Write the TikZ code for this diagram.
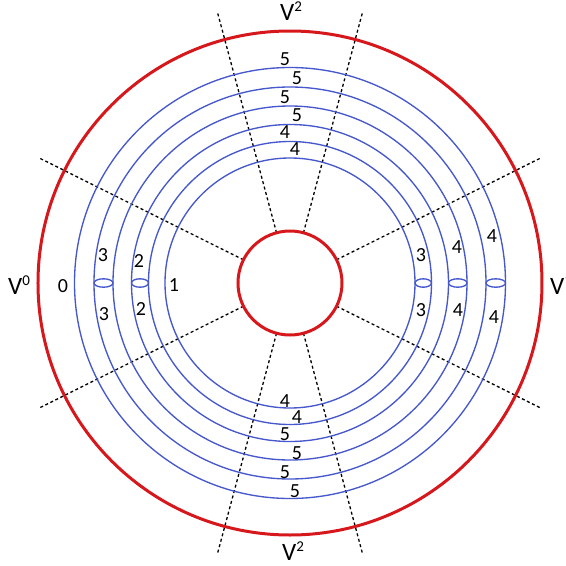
\documentclass[tikz,border=0pt]{standalone}
\usepackage{fontspec}
\setmainfont{Carlito}
\usepackage{xcolor}
\usepackage{tikz}
\usetikzlibrary{calc}

\definecolor{ringblue}{RGB}{70,88,204}
\definecolor{wallred}{RGB}{214,24,28}

\tikzset{
  ring/.style={ringblue, line width=1.35pt},
  wall/.style={wallred, line width=3pt},
  cut/.style={black, line width=1.3pt, dash pattern=on 3pt off 2.6pt},
  num/.style={inner sep=0pt, font=\fontsize{20}{20}\selectfont},
  vlab/.style={inner sep=0pt, anchor=base, font=\fontsize{25}{25}\selectfont}
}
\newcommand{\vsup}[1]{V\raisebox{9pt}{\fontsize{15}{15}\selectfont #1}}

\begin{document}
\begin{tikzpicture}[x=1pt,y=1pt]
    \useasboundingbox (-290,-283) rectangle (276,283);
    % Cut lines
    \foreach \a in {26.5,75,105,153.5,206.5,255,285,333.5}
      \draw[cut] (\a:52) -- (\a:280);
    % Walls
    \draw[wall] (0,0) circle (252);
    \draw[wall] (0,0) circle (52);
    % Rings
    \foreach \r in {125,141.5,158.5,177,196,215.5}
      \draw[ring] (0,0) circle (\r);
    % Crossings
    \foreach \x/\w in {-186.5/9.5,-150/8.5,133.25/8.25,167.75/9.25,205.75/9.75}
      \draw[ring] (\x,0) ellipse ({\w} and 4.2);
    % Ring labels, top and bottom
    \foreach \r/\dx/\t [count=\i] in {215/-5/5,196/7/5,177/-5/5,158.5/7/5,141.5/-5/4,125/5/4}
      \node[num] (top\i) at (\dx,{\r+9}) {\t};
    \foreach \r/\dx/\t [count=\i] in {125/-5/4,141.5/7/4,158.5/-5/5,177/7/5,196/-5/5,215/5/5}
      \node[num] (bot\i) at (\dx,{7-\r}) {\t};
    % Ring labels, left
    \node[num] (lzero) at (-227,-3) {0};
    \node[num] (lthreeu) at (-187,28) {3};
    \node[num] (lthreed) at (-186,-31) {3};
    \node[num] (ltwou) at (-151,22) {2};
    \node[num] (ltwod) at (-149,-26) {2};
    \node[num] (lone) at (-116,-2) {1};
    % Ring labels, right
    \node[num] (rthreeu) at (131,28) {3};
    \node[num] (rthreed) at (131,-27) {3};
    \node[num] (rfouru) at (167,36) {4};
    \node[num] (rfourd) at (168,-27) {4};
    \node[num] (rfiveu) at (202,47) {4};
    \node[num] (rfived) at (204,-34) {4};
    % Vertex labels
    \node[vlab] (vtop) at (1,263) {\vsup{2}};
    \node[vlab] (vbot) at (3,-277) {\vsup{2}};
    \node[vlab] (vleft) at (-271,-11) {\vsup{0}};
    \node[vlab] (vright) at (271,-11) {\vsup{1}};
\end{tikzpicture}
\end{document}
